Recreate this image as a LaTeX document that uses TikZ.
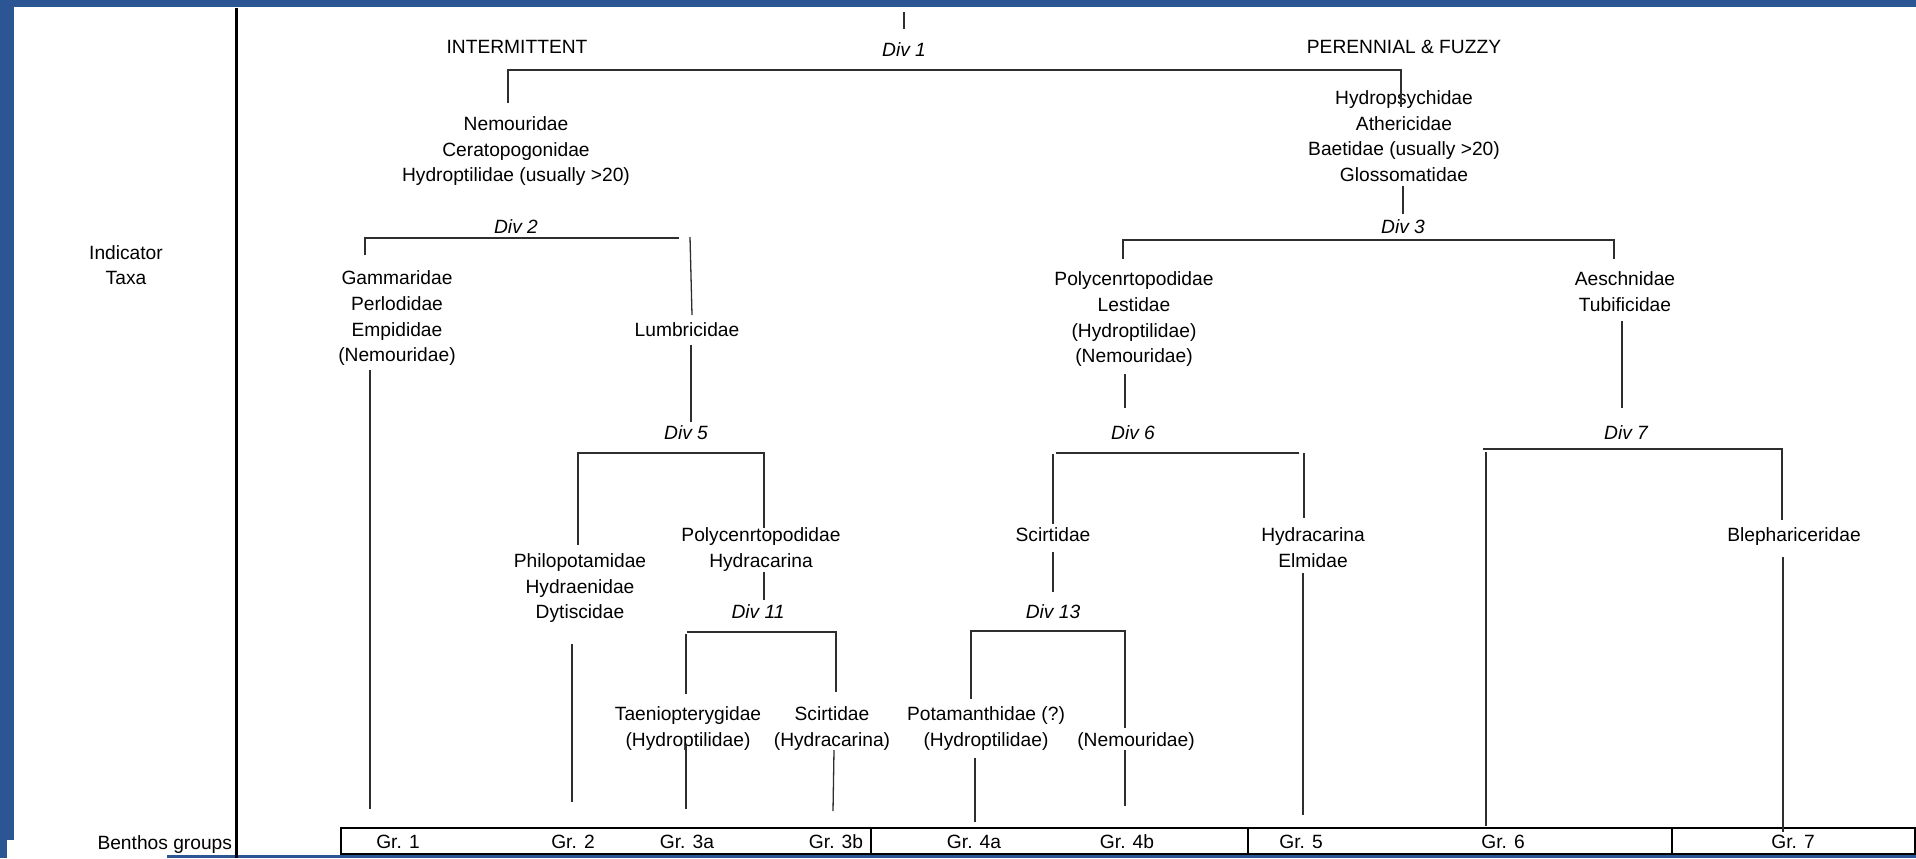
\documentclass[tikz,border=0pt]{standalone}
\usepackage{fontspec}
\setmainfont{Liberation Sans}
\definecolor{frameblue}{HTML}{2C5593}
\definecolor{inkgrey}{HTML}{2E2E2E}
\newcommand\taxfont{\fontsize{9.6pt}{12.85pt}\selectfont}
\newcommand\rowstrut{\strut}
\tikzset{
  txt/.style={inner sep=0pt, outer sep=0pt, align=center, font=\taxfont, text=black},
  divlbl/.style={txt, font=\taxfont\itshape},
  ln/.style={line width=0.65pt, draw=inkgrey},
  cell/.style={line width=0.75pt, draw=black},
}
\begin{document}
\begin{tikzpicture}[x=0.5pt,y=-0.5pt]
% page frame
\fill[frameblue] (0,0) rectangle (1916,858);
\fill[white] (14,7) rectangle (1916,855);
\fill[white] (7,840) rectangle (167,858);
\useasboundingbox (0,0) rectangle (1916,858);

% axis separating the row titles
\draw[line width=1.5pt, black] (236,8) -- (236,858);
\node[txt] (rowtaxa) at (126,267) {\rowstrut Indicator\\\rowstrut Taxa};
\node[txt, anchor=east] (rowgroups) at (232,844) {\rowstrut Benthos groups};

% ---- level 1
\node[divlbl] (div1) at (904,51) {\rowstrut Div 1};
\node[txt] (intermittent) at (517,48) {\rowstrut INTERMITTENT};
\node[txt] (perennial) at (1404,48) {\rowstrut PERENNIAL \& FUZZY};
\node[txt] (nemo) at (516,151) {\rowstrut Nemouridae\\\rowstrut Ceratopogonidae\\\rowstrut Hydroptilidae (usually >20)};
\node[txt] (hydrops) at (1404,138) {\rowstrut Hydropsychidae\\\rowstrut Athericidae\\\rowstrut Baetidae (usually >20)\\\rowstrut Glossomatidae};

% ---- level 2
\node[divlbl] (div2) at (516,228) {\rowstrut Div 2};
\node[divlbl] (div3) at (1403,228) {\rowstrut Div 3};
\node[txt] (gamm) at (397,318) {\rowstrut Gammaridae\\\rowstrut Perlodidae\\\rowstrut Empididae\\\rowstrut (Nemouridae)};
\node[txt] (lumb) at (687,331) {\rowstrut Lumbricidae};
\node[txt] (polyA) at (1134,319) {\rowstrut Polycenrtopodidae\\\rowstrut Lestidae\\\rowstrut (Hydroptilidae)\\\rowstrut (Nemouridae)};
\node[txt] (aesch) at (1625,293) {\rowstrut Aeschnidae\\\rowstrut Tubificidae};

% ---- level 3
\node[divlbl] (div5) at (686,434) {\rowstrut Div 5};
\node[divlbl] (div6) at (1133,434) {\rowstrut Div 6};
\node[divlbl] (div7) at (1626,434) {\rowstrut Div 7};
\node[txt] (philo) at (580,588) {\rowstrut Philopotamidae\\\rowstrut Hydraenidae\\\rowstrut Dytiscidae};
\node[txt] (polyB) at (761,549) {\rowstrut Polycenrtopodidae\\\rowstrut Hydracarina};
\node[txt] (scirA) at (1053,536) {\rowstrut Scirtidae};
\node[txt] (hydrac) at (1313,549) {\rowstrut Hydracarina\\\rowstrut Elmidae};
\node[txt] (bleph) at (1794,536) {\rowstrut Blephariceridae};

% ---- level 4
\node[divlbl] (div11) at (758,613) {\rowstrut Div 11};
\node[divlbl] (div13) at (1053,613) {\rowstrut Div 13};
\node[txt] (taenio) at (688,728) {\rowstrut Taeniopterygidae\\\rowstrut (Hydroptilidae)};
\node[txt] (scirB) at (832,728) {\rowstrut Scirtidae\\\rowstrut (Hydracarina)};
\node[txt] (potam) at (986,728) {\rowstrut Potamanthidae (?)\\\rowstrut (Hydroptilidae)};
\node[txt] (nemoB) at (1136,741) {\rowstrut (Nemouridae)};

% ---- benthos groups row
\draw[cell] (341,828) rectangle (1915,854);
\draw[cell] (871,828) -- (871,854);
\draw[cell] (1248,828) -- (1248,854);
\draw[cell] (1672,828) -- (1672,854);
\foreach \nm/\xx/\lab in {g1/398/Gr. 1, g2/573/Gr. 2, g3a/687/Gr. 3a, g3b/836/Gr. 3b,
                          g4a/974/Gr. 4a, g4b/1127/Gr. 4b, g5/1301/Gr. 5, g6/1503/Gr. 6, g7/1793/Gr. 7}
  \node[txt] (\nm) at (\xx,843) {\rowstrut \lab};

% ---- connector end points
\coordinate (top0) at (904,12);   \coordinate (top1) at (904,29);
\coordinate (b1L) at (508,70);    \coordinate (b1R) at (1401,70);
\coordinate (b1Le) at (508,103);  \coordinate (b1Re) at (1401,107);
\coordinate (h3a) at (1403,186);  \coordinate (h3b) at (1403,214);
\coordinate (b3L) at (1123,240);  \coordinate (b3R) at (1614,240);
\coordinate (b3Le) at (1123,259); \coordinate (b3Re) at (1614,259);
\coordinate (b2L) at (365,238);   \coordinate (b2R) at (679,238);
\coordinate (b2Le) at (365,255);
\coordinate (b2Rs) at (690,237);  \coordinate (b2Re) at (692,315);
\coordinate (gm0) at (370,370);   \coordinate (gm1) at (370,809);
\coordinate (lb0) at (691,345);   \coordinate (lb1) at (691,422);
\coordinate (b5L) at (578,453);   \coordinate (b5R) at (764,453);
\coordinate (b5Le) at (578,545);  \coordinate (b5Re) at (764,528);
\coordinate (ph0) at (572,644);   \coordinate (ph1) at (572,802);
\coordinate (pb0) at (764,572);   \coordinate (pb1) at (764,600);
\coordinate (b11L) at (687,632);  \coordinate (b11R) at (836,632);
\coordinate (b11Ls) at (686,634); \coordinate (b11Le) at (686,694);
\coordinate (b11Re) at (836,692);
\coordinate (ta0) at (686,745);   \coordinate (ta1) at (686,809);
\coordinate (sb0) at (834,750);   \coordinate (sb1) at (833,811);
\coordinate (pa0) at (1125,374);  \coordinate (pa1) at (1125,408);
\coordinate (b6L) at (1056,453);  \coordinate (b6R) at (1299,453);
\coordinate (b6Ls) at (1053,454); \coordinate (b6Le) at (1053,524);
\coordinate (b6Rs) at (1304,453); \coordinate (b6Re) at (1304,518);
\coordinate (sa0) at (1053,552);  \coordinate (sa1) at (1053,592);
\coordinate (b13L) at (971,631);  \coordinate (b13R) at (1125,631);
\coordinate (b13Le) at (971,699);
\coordinate (b13Re) at (1125,728);
\coordinate (po0) at (975,758);   \coordinate (po1) at (975,822);
\coordinate (nb0) at (1125,750);  \coordinate (nb1) at (1125,806);
\coordinate (hc0) at (1303,573);  \coordinate (hc1) at (1303,815);
\coordinate (tb0) at (1622,321);  \coordinate (tb1) at (1622,408);
\coordinate (b7L) at (1483,449);  \coordinate (b7R) at (1783,449);
\coordinate (b7Ls) at (1486,452); \coordinate (b7Le) at (1486,826);
\coordinate (b7Rs) at (1782,449); \coordinate (b7Re) at (1782,520);
\coordinate (bl0) at (1783,557);  \coordinate (bl1) at (1783,832);

% ---- connectors
\draw[ln] (top0) -- (top1);
\draw[ln] (b1Le) -- (b1L) -- (b1R) -- (b1Re);
\draw[ln] (h3a) -- (h3b);
\draw[ln] (b3Le) -- (b3L) -- (b3R) -- (b3Re);
\draw[ln] (b2Le) -- (b2L) -- (b2R);
\draw[ln] (b2Rs) -- (b2Re);
\draw[ln] (gm0) -- (gm1);
\draw[ln] (lb0) -- (lb1);
\draw[ln] (b5Le) -- (b5L) -- (b5R) -- (b5Re);
\draw[ln] (ph0) -- (ph1);
\draw[ln] (pb0) -- (pb1);
\draw[ln] (b11L) -- (b11R) -- (b11Re);
\draw[ln] (b11Ls) -- (b11Le);
\draw[ln] (ta0) -- (ta1);
\draw[ln] (sb0) -- (sb1);
\draw[ln] (pa0) -- (pa1);
\draw[ln] (b6L) -- (b6R);
\draw[ln] (b6Ls) -- (b6Le);
\draw[ln] (b6Rs) -- (b6Re);
\draw[ln] (sa0) -- (sa1);
\draw[ln] (b13Le) -- (b13L) -- (b13R) -- (b13Re);
\draw[ln] (po0) -- (po1);
\draw[ln] (nb0) -- (nb1);
\draw[ln] (hc0) -- (hc1);
\draw[ln] (tb0) -- (tb1);
\draw[ln] (b7L) -- (b7R);
\draw[ln] (b7Ls) -- (b7Le);
\draw[ln] (b7Rs) -- (b7Re);
\draw[ln] (bl0) -- (bl1);
\end{tikzpicture}
\end{document}
